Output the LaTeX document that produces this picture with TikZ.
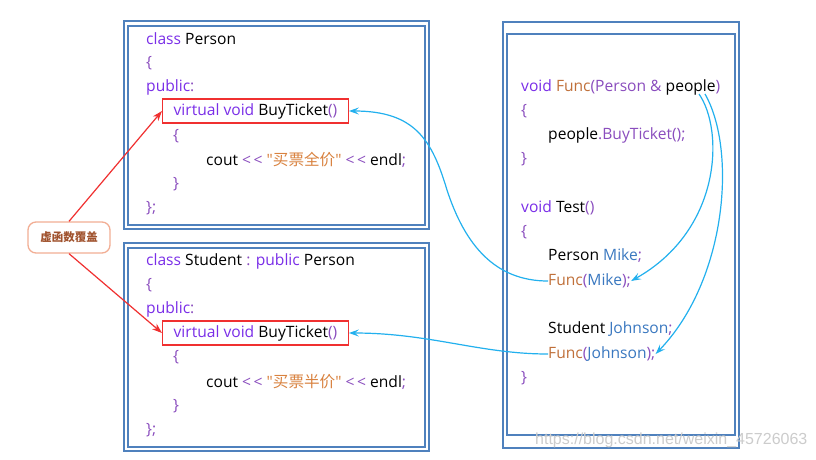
\documentclass[tikz,border=0pt]{standalone}
\usepackage{fontspec}
\setmainfont{Open Sans}
\newfontfamily\cjk{Noto Sans CJK SC}
\newfontfamily\wmfont{Liberation Sans}
\usetikzlibrary{arrows.meta}
\definecolor{kwc}{HTML}{7A2EE8}
\definecolor{puc}{HTML}{8A4DBE}
\definecolor{stc}{HTML}{D9823F}
\definecolor{fnc}{HTML}{C0703A}
\definecolor{idc}{HTML}{3A78C0}
\definecolor{framec}{HTML}{4F81BD}
\definecolor{redc}{HTML}{F03030}
\definecolor{bluec}{HTML}{22B0EE}
\definecolor{calloutc}{HTML}{F2AE94}
\definecolor{callouttxt}{HTML}{A0522D}
\newcommand\ckw[1]{\textcolor{kwc}{#1}}
\newcommand\cpu[1]{\textcolor{puc}{#1}}
\newcommand\cst[1]{\textcolor{stc}{#1}}
\newcommand\cfn[1]{\textcolor{fnc}{#1}}
\newcommand\cid[1]{\textcolor{idc}{#1}}
\begin{document}
\begin{tikzpicture}[x=1pt,y=-1pt,
  code/.style={anchor=west,inner sep=0pt,font=\fontsize{15.6}{18}\selectfont},
  frame/.style={draw=framec,line width=1.3pt},
  redbox/.style={draw=redc,line width=1.3pt,inner xsep=11pt,inner ysep=0pt,minimum height=24pt},
  bluearr/.style={draw=bluec,line width=1.2pt,-{Stealth[length=10pt,width=7pt,inset=4pt]}},
  redarr/.style={draw=redc,line width=1.2pt,-{Stealth[length=10pt,width=7pt,inset=3pt]}}]
\useasboundingbox[fill=white] (0,0) rectangle (816,459);
% frames
\draw[frame] (124,21) rectangle (429,229);
\draw[frame] (128,26) rectangle (425,225);
\draw[frame] (124,243) rectangle (429,451);
\draw[frame] (128,248) rectangle (425,447);
\draw[frame] (503,22) rectangle (739,448);
\draw[frame] (507,34) rectangle (735,435);
% class Person
\node[code] (p1) at (146,39) {\ckw{class} Person};
\node[code] (p2) at (146,63) {\cpu{\{}};
\node[code] (p3) at (146,87) {\ckw{public}\cpu{:}};
\node[code,redbox] (vb1) at (162,111) {\ckw{virtual void} BuyTicket\cpu{()}};
\node[code] (p5) at (173,136) {\cpu{\{}};
\node[code] (p6) at (206,160) {cout \cpu{<\,<} \cst{\textquotedbl{\cjk 买票全价}\textquotedbl} \cpu{<\,<} endl\cpu{;}};
\node[code] (p7) at (173,184) {\cpu{\}}};
\node[code] (p8) at (146,208) {\cpu{\};}};
% class Student
\node[code] (s1) at (146,261) {\ckw{class} Student \cpu{:} \ckw{public} Person};
\node[code] (s2) at (146,285) {\cpu{\{}};
\node[code] (s3) at (146,309) {\ckw{public}\cpu{:}};
\node[code,redbox] (vb2) at (162,333) {\ckw{virtual void} BuyTicket\cpu{()}};
\node[code] (s5) at (173,357) {\cpu{\{}};
\node[code] (s6) at (206,382) {cout \cpu{<\,<} \cst{\textquotedbl{\cjk 买票半价}\textquotedbl} \cpu{<\,<} endl\cpu{;}};
\node[code] (s7) at (173,406) {\cpu{\}}};
\node[code] (s8) at (146,430) {\cpu{\};}};
% right code
\node[code] (r1) at (521,87) {\ckw{void} \cfn{Func}\cpu{(Person \& }people\cpu{)}};
\node[code] (r2) at (521,111) {\cpu{\{}};
\node[code] (r3) at (548,135) {people\cpu{.BuyTicket();}};
\node[code] (r4) at (521,159) {\cpu{\}}};
\node[code] (r5) at (521,208) {\ckw{void} Test\cpu{()}};
\node[code] (r6) at (521,232) {\cpu{\{}};
\node[code] (r7) at (548,256) {Person \cid{Mike}\cpu{;}};
\node[code] (fm) at (548,281) {\cfn{Func}\cpu{(}\cid{Mike}\cpu{);}};
\node[code] (r9) at (548,329) {Student \cid{Johnson}\cpu{;}};
\node[code] (fj) at (548,354) {\cfn{Func}\cpu{(}\cid{Johnson}\cpu{);}};
\node[code] (r11) at (521,378) {\cpu{\}}};
% callout
\node[draw=calloutc,line width=1.3pt,rounded corners=8pt,fill=white,
  minimum width=82pt,minimum height=31pt,inner sep=0pt,text=callouttxt,
  font=\cjk\bfseries\fontsize{11.5}{13}\selectfont] (cv) at (69,237.5) {虚函数覆盖};
\draw[redarr] (cv.north) -- (vb1.west);
\draw[redarr] (cv.south) -- (vb2.west);
% blue arrows
\coordinate (pa) at (699,94);
\coordinate (pb) at (705,94);
\draw[bluearr] (fm.west) .. controls (495,281) and (465,245) .. (447,190)
  .. controls (432,140) and (415,111) .. (vb1.east);
\draw[bluearr] (fj.west) .. controls (480,354) and (430,333) .. (vb2.east);
\draw[bluearr] (pa) .. controls (724,130) and (722,230) .. (fm.east);
\draw[bluearr] (pb) .. controls (737,150) and (727,280) .. (fj.east);
% watermark
\node[anchor=west,inner sep=0pt,text=black!20,font=\wmfont\fontsize{16}{18}\selectfont] (wm) at (535,440) {https://blog.csdn.net/weixin\_45726063};
\end{tikzpicture}
\end{document}
